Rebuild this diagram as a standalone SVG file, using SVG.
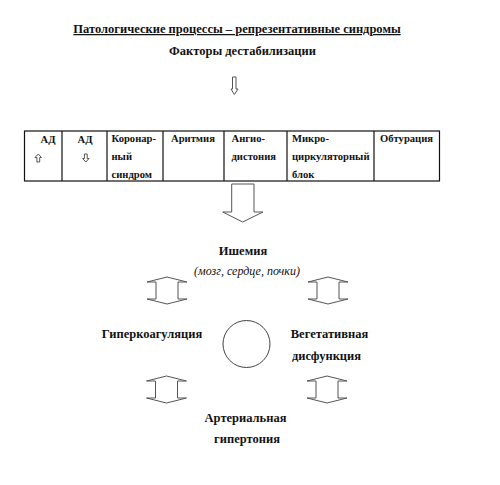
<svg xmlns="http://www.w3.org/2000/svg" width="500" height="485" viewBox="0 0 500 485">
<style>
text{font-family:"Liberation Serif","Times New Roman","DejaVu Serif",serif;fill:#111;font-weight:bold}
.h{font-size:12.5px}
.t{font-size:10.6px}
.it{font-weight:normal;font-style:italic;font-size:12px}
.ar{fill:#fff;stroke:#555;stroke-width:1}
.tb{fill:none;stroke:#111;stroke-width:1.2}
</style>
<defs>
<polygon id="dbl" class="ar" points="0,-14 20,-9 11,-9 11,8 20,8 0,13 -20,8 -11,8 -11,-9 -20,-9"/>
</defs>
<g id="title">
<text class="h" x="237" y="33" text-anchor="middle" text-decoration="underline">Патологические процессы – репрезентативные синдромы</text>
</g>
<g id="factors">
<text class="h" x="242.5" y="55" text-anchor="middle">Факторы дестабилизации</text>
</g>
<g id="table">
<rect class="tb" x="24.5" y="131" width="415" height="50"/>
<line class="tb" x1="62" y1="131" x2="62" y2="181"/>
<line class="tb" x1="107" y1="131" x2="107" y2="181"/>
<line class="tb" x1="163" y1="131" x2="163" y2="181"/>
<line class="tb" x1="224" y1="131" x2="224" y2="181"/>
<line class="tb" x1="287" y1="131" x2="287" y2="181"/>
<line class="tb" x1="374" y1="131" x2="374" y2="181"/>
<text class="t" x="40.5" y="143">АД</text>
<polygon class="ar" points="38.3,154 41.5,157.5 39.7,157.5 39.7,162 36.9,162 36.9,157.5 35,157.5"/>
<text class="t" x="77.5" y="143">АД</text>
<polygon class="ar" points="85.8,162 89,158.5 87.2,158.5 87.2,154 84.4,154 84.4,158.5 82.6,158.5"/>
<text class="t" x="111.5" y="141.5">Коронар-</text>
<text class="t" x="111.5" y="159.5">ный</text>
<text class="t" x="111.5" y="177.5">синдром</text>
<text class="t" x="171" y="141.5">Аритмия</text>
<text class="t" x="231.5" y="141.5">Ангио-</text>
<text class="t" x="231.5" y="159.5">дистония</text>
<text class="t" x="292" y="141.5">Микро-</text>
<text class="t" x="292" y="159.5">циркуляторный</text>
<text class="t" x="292" y="177.5">блок</text>
<text class="t" x="380" y="141.5">Обтурация</text>
</g>
<g id="connectors">
<polygon class="ar" points="232.5,77 236,77 236,89 238,89 234.3,94.5 231,89 232.5,89"/>
<polygon class="ar" points="231.7,184 254,184 254,212 263,212 242.7,222 222.7,212 231.7,212"/>
<use href="#dbl" x="167" y="291"/>
<use href="#dbl" x="328" y="291"/>
<use href="#dbl" x="166.5" y="390"/>
<use href="#dbl" x="327" y="390"/>
</g>
<g id="ischemia">
<text class="h" x="243" y="255" text-anchor="middle">Ишемия</text>
<text class="it" x="247" y="275" text-anchor="middle">(мозг, сердце, почки)</text>
</g>
<g id="center">
<circle cx="246.5" cy="344" r="23.5" fill="none" stroke="#444" stroke-width="1"/>
</g>
<g id="hypercoag">
<text class="h" x="152" y="338" text-anchor="middle">Гиперкоагуляция</text>
</g>
<g id="vegetative">
<text class="h" x="329.5" y="338" text-anchor="middle">Вегетативная</text>
<text class="h" x="326.5" y="360" text-anchor="middle">дисфункция</text>
</g>
<g id="hypertension">
<text class="h" x="245.5" y="422" text-anchor="middle">Артериальная</text>
<text class="h" x="247" y="443" text-anchor="middle">гипертония</text>
</g>
</svg>
